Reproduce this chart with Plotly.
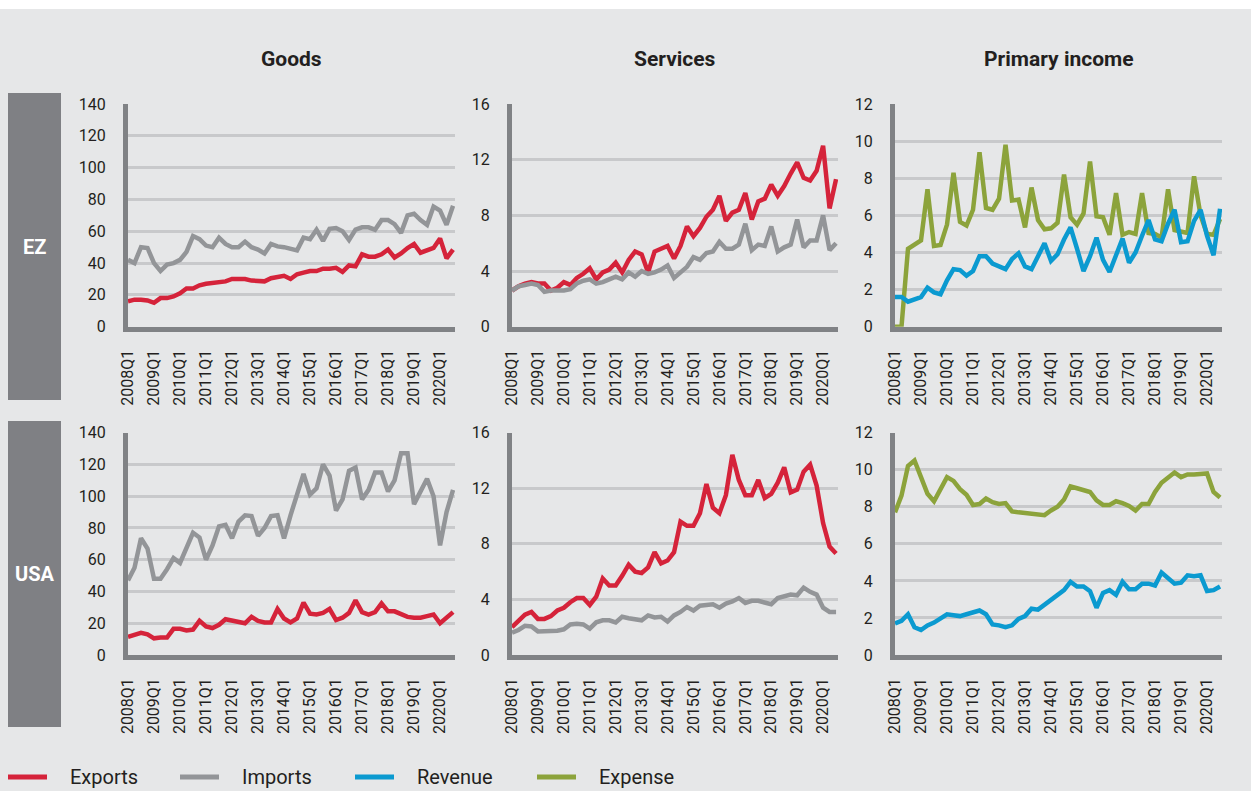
import plotly.graph_objects as go

W, H = 1251, 791

# quarters 2008Q1 .. 2020Q3, labelled every 4th
tick_pos = [0, 4, 8, 12, 16, 20, 24, 28, 32, 36, 40, 44, 48]
tick_labels = ["2008Q1", "2009Q1", "2010Q1", "2011Q1", "2012Q1", "2013Q1", "2014Q1",
               "2015Q1", "2016Q1", "2017Q1", "2018Q1", "2019Q1", "2020Q1"]

ez_goods_exports = [16, 17, 17, 16.5, 15, 18, 18, 19, 21, 24, 24, 26, 27, 27.5, 28, 28.5, 30, 30, 30, 29,
                    29, 28.5, 30.5, 31.5, 32, 30, 33, 34, 35, 35, 36.5, 36.5, 37, 34.5, 38.5, 38, 45.5, 44, 44, 45.5,
                    48.5, 43.5, 46, 49.5, 52, 46.5, 48, 49.5, 55.5, 43, 48.5]
ez_goods_imports = [42, 40, 50, 49.5, 40, 35, 39, 40, 42, 47, 57, 55, 51, 50, 56, 52, 50, 50, 53.5, 50,
                    48.5, 46, 52, 50.5, 50, 49, 48, 56, 55, 61, 54, 61.5, 62, 60, 54.5, 61, 62.5, 62.5, 61, 67,
                    67, 64.5, 59, 70, 71, 67, 64, 75.5, 73, 64, 76]
ez_serv_exports = [2.6, 2.9, 3.1, 3.2, 3.1, 3.1, 2.6, 2.8, 3.2, 3.0, 3.5, 3.8, 4.2, 3.4, 3.9, 4.1, 4.6, 3.9, 4.8, 5.4,
                   5.2, 3.9, 5.4, 5.6, 5.8, 4.9, 5.8, 7.2, 6.5, 7.1, 7.9, 8.4, 9.4, 7.6, 8.2, 8.4, 9.6, 7.7, 9.0, 9.2,
                   10.2, 9.4, 10.1, 11.0, 11.8, 10.7, 10.5, 11.2, 13.0, 8.5, 10.6]
ez_serv_imports = [2.6, 2.9, 3.0, 3.1, 3.0, 2.5, 2.6, 2.6, 2.6, 2.7, 3.1, 3.3, 3.4, 3.1, 3.2, 3.4, 3.6, 3.4, 3.9, 3.6,
                   4.0, 3.8, 3.9, 4.1, 4.4, 3.5, 3.9, 4.3, 5.0, 4.8, 5.3, 5.4, 6.1, 5.6, 5.6, 5.9, 7.4, 5.5, 5.9, 5.8,
                   7.2, 5.4, 5.7, 5.9, 7.7, 5.7, 6.2, 6.2, 8.0, 5.5, 6.0]
ez_prim_revenue = [1.6, 1.6, 1.35, 1.45, 1.6, 2.1, 1.85, 1.75, 2.5, 3.1, 3.05, 2.75, 3.0, 3.8, 3.8, 3.4, 3.25, 3.1, 3.65, 3.95,
                   3.25, 3.1, 3.8, 4.5, 3.55, 3.9, 4.7, 5.35, 4.2, 3.0, 3.8, 4.8, 3.6, 2.95, 3.85, 4.75, 3.45, 4.0, 4.9, 5.75,
                   4.7, 4.6, 5.55, 6.3, 4.55, 4.6, 5.7, 6.3, 4.9, 3.85, 6.35]
ez_prim_expense = [0, 0, 4.2, 4.4, 4.65, 7.4, 4.35, 4.4, 5.5, 8.3, 5.65, 5.45, 6.3, 9.4, 6.4, 6.3, 6.9, 9.8, 6.8, 6.85,
                   5.35, 7.5, 5.75, 5.25, 5.3, 5.6, 8.2, 5.9, 5.5, 6.1, 8.9, 5.95, 5.9, 4.95, 7.2, 4.95, 5.1, 5.0, 7.2, 5.05,
                   5.0, 4.8, 7.4, 5.2, 5.15, 5.05, 8.1, 6.0, 5.0, 4.95, 5.8]

us_goods_exports = [11.5, 12.5, 14, 13, 10.5, 11, 11, 16.5, 16.5, 15.5, 16, 21.5, 18, 17, 19, 22.5, 21.5, 21, 20, 24,
                    21.5, 20.5, 20.5, 29, 23, 20.5, 23, 33, 26, 25.5, 26.5, 29, 22, 23.5, 26.5, 34.5, 27, 25.5, 27, 32.5,
                    27.5, 27.5, 26, 24, 23.5, 23.5, 24.5, 25.5, 20, 23.5, 27]
us_goods_imports = [47, 55, 73.5, 67, 48, 48, 54, 61, 58, 68, 77, 74, 60, 69, 81, 82, 73.5, 84, 88, 87.5,
                    75, 80, 87.5, 88, 73.5, 88, 101, 114, 101, 105, 120, 113, 91, 98, 116, 118, 98, 104, 115, 115,
                    103, 110, 127, 127, 95, 103, 111, 100, 69, 90, 104]
us_serv_exports = [2.0, 2.5, 2.9, 3.1, 2.6, 2.6, 2.8, 3.2, 3.4, 3.8, 4.1, 4.1, 3.6, 4.2, 5.5, 5.0, 5.0, 5.7, 6.5, 6.0,
                   5.9, 6.3, 7.4, 6.6, 6.8, 7.4, 9.6, 9.3, 9.3, 10.2, 12.3, 10.6, 10.2, 11.5, 14.4, 12.6, 11.5, 11.5, 12.6, 11.3,
                   11.6, 12.4, 13.5, 11.7, 11.9, 13.2, 13.7, 12.2, 9.5, 7.8, 7.3]
us_serv_imports = [1.6, 1.8, 2.1, 2.05, 1.7, 1.7, 1.7, 1.75, 1.85, 2.2, 2.25, 2.2, 1.9, 2.35, 2.5, 2.5, 2.35, 2.75, 2.65, 2.6,
                   2.5, 2.85, 2.7, 2.75, 2.4, 2.85, 3.1, 3.45, 3.2, 3.55, 3.6, 3.65, 3.4, 3.7, 3.85, 4.1, 3.75, 3.9, 3.9, 3.8,
                   3.65, 4.1, 4.25, 4.35, 4.3, 4.85, 4.55, 4.35, 3.4, 3.1, 3.1]
us_prim_revenue = [1.7, 1.85, 2.2, 1.5, 1.35, 1.6, 1.75, 1.95, 2.2, 2.15, 2.1, 2.2, 2.3, 2.4, 2.2, 1.65, 1.6, 1.5, 1.6, 1.95,
                   2.1, 2.5, 2.45, 2.7, 2.95, 3.25, 3.5, 3.95, 3.7, 3.7, 3.45, 2.55, 3.35, 3.5, 3.25, 3.95, 3.55, 3.55, 3.85, 3.85,
                   3.75, 4.45, 4.15, 3.85, 3.9, 4.3, 4.25, 4.3, 3.45, 3.5, 3.7]
us_prim_expense = [7.7, 8.6, 10.2, 10.5, 9.6, 8.7, 8.3, 8.9, 9.6, 9.4, 8.95, 8.65, 8.1, 8.15, 8.45, 8.25, 8.15, 8.2, 7.75, 7.7,
                   7.65, 7.6, 7.55, 7.55, 7.8, 8.0, 8.4, 9.1, 9.0, 8.9, 8.8, 8.35, 8.1, 8.1, 8.3, 8.2, 8.05, 7.8, 8.15, 8.15,
                   8.8, 9.3, 9.55, 9.85, 9.6, 9.75, 9.75, 9.75, 9.8, 8.8, 8.5]

col_titles = ["Goods", "Services", "Primary income"]
row_titles = ["EZ", "USA"]
legend_names = ["Exports", "Imports", "Revenue", "Expense"]

RED, GREY, BLUE, GREEN = "#d5233a", "#939598", "#0b9ad0", "#8ca33b"
BG, GRID, AXIS, TXT = "#e6e7e8", "#c8c9cb", "#808285", "#231f20"
FONT = "Roboto"

# pixel boxes of the panels
col_px = [(128, 455), (512, 838), (895, 1222)]
row_px = [(104, 326.7), (432.7, 655)]


def fx(p):
    return p / W


def fy(p):
    return 1 - p / H


panels = [
    (0, 0, [(ez_goods_exports, RED), (ez_goods_imports, GREY)], 140, 20),
    (0, 1, [(ez_serv_exports, RED), (ez_serv_imports, GREY)], 16, 4),
    (0, 2, [(ez_prim_expense, GREEN), (ez_prim_revenue, BLUE)], 12, 2),
    (1, 0, [(us_goods_exports, RED), (us_goods_imports, GREY)], 140, 20),
    (1, 1, [(us_serv_exports, RED), (us_serv_imports, GREY)], 16, 4),
    (1, 2, [(us_prim_expense, GREEN), (us_prim_revenue, BLUE)], 12, 2),
]

fig = go.Figure()
layout = {}
for k, (r, c, series, ymax, dt) in enumerate(panels):
    n = k + 1
    xs = "" if n == 1 else str(n)
    for vals, col in series:
        fig.add_trace(go.Scatter(
            x=list(range(len(vals))), y=vals, mode="lines",
            line=dict(color=col, width=4.5), showlegend=False, hoverinfo="skip",
            xaxis="x" + xs, yaxis="y" + xs))
    layout["xaxis" + xs] = dict(
        domain=[fx(col_px[c][0]), fx(col_px[c][1])], anchor="y" + xs,
        range=[0, 50.3], tickmode="array", tickvals=tick_pos, ticktext=tick_labels,
        tickangle=-90, showgrid=False, zeroline=False, showline=True,
        linecolor=AXIS, linewidth=4.5, ticks="", ticklabelstandoff=12,
        tickfont=dict(family=FONT, size=16, color=TXT), fixedrange=True)
    layout["yaxis" + xs] = dict(
        domain=[fy(row_px[r][1]), fy(row_px[r][0])], anchor="x" + xs,
        range=[0, ymax], dtick=dt, showgrid=True, gridcolor=GRID, gridwidth=2.5,
        zeroline=False, showline=True, linecolor=AXIS, linewidth=5, ticks="",
        ticklabelstandoff=14, tickfont=dict(family=FONT, size=16, color=TXT), fixedrange=True)

shapes = [dict(type="rect", xref="paper", yref="paper", x0=0, x1=1, y0=fy(9), y1=1,
               fillcolor="white", line=dict(width=0), layer="below")]
annotations = []

for c, t in enumerate(col_titles):
    annotations.append(dict(xref="paper", yref="paper", x=fx(sum(col_px[c]) / 2), y=fy(59),
                            xanchor="center", yanchor="middle",
                            text="<b>%s</b>" % t, showarrow=False,
                            font=dict(family=FONT, size=21, color=TXT)))

row_boxes = [(93, 400), (421, 727)]
for (y0, y1), t in zip(row_boxes, row_titles):
    shapes.append(dict(type="rect", xref="paper", yref="paper", x0=fx(8), x1=fx(61),
                       y0=fy(y1), y1=fy(y0), fillcolor="#7f8084", line=dict(width=0), layer="below"))
    annotations.append(dict(xref="paper", yref="paper", x=fx(34.5), y=fy((y0 + y1) / 2),
                            xanchor="center", yanchor="middle",
                            text="<b>%s</b>" % t, showarrow=False,
                            font=dict(family=FONT, size=20, color="white")))

# legend drawn by hand to match the original spacing
leg_x = [6, 178, 353, 535]
for x0, name, col in zip(leg_x, legend_names, [RED, GREY, BLUE, GREEN]):
    shapes.append(dict(type="line", xref="paper", yref="paper", x0=fx(x0 + 2), x1=fx(x0 + 41),
                       y0=fy(777), y1=fy(777), line=dict(color=col, width=5)))
    annotations.append(dict(xref="paper", yref="paper", x=fx(x0 + 62), y=fy(777),
                            xanchor="left", yanchor="middle", text=name, showarrow=False,
                            font=dict(family=FONT, size=20, color=TXT)))

fig.update_layout(
    width=W, height=H, margin=dict(l=0, r=0, t=0, b=0),
    paper_bgcolor=BG, plot_bgcolor=BG, template="none",
    shapes=shapes, annotations=annotations, showlegend=False,
    font=dict(family=FONT, color=TXT), **layout)

fig.write_html("out.html", config={"displayModeBar": False},
               post_script="document.body.style.margin='0';document.body.style.overflow='hidden';")
